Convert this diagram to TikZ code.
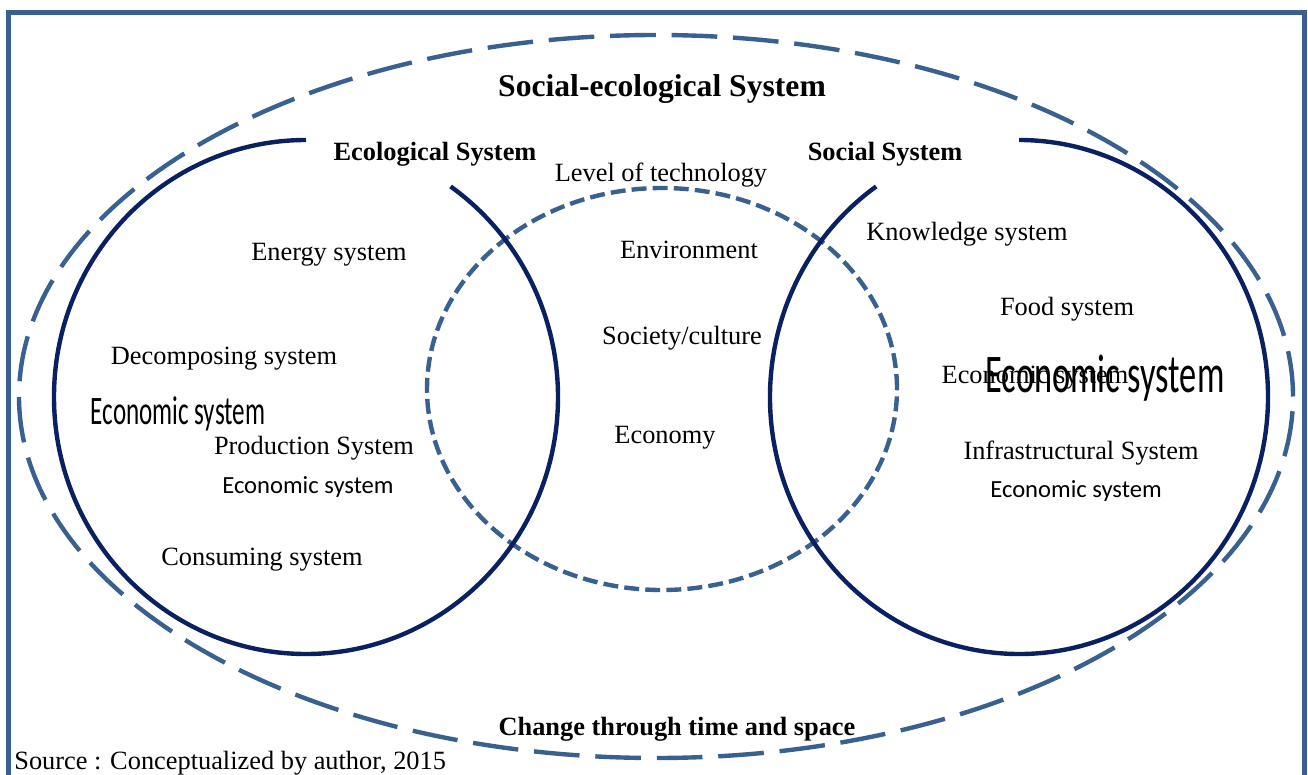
\documentclass[tikz,border=0pt]{standalone}
\usepackage{fontspec}
\setmainfont{Liberation Serif}
\newfontfamily\calibrifont{Carlito}
\definecolor{frameblue}{RGB}{58,96,144}
\definecolor{ringnavy}{RGB}{10,32,96}
\tikzset{
  framebox/.style={frameblue,line width=2.9pt},
  outerdash/.style={frameblue,line width=2.5pt,dash pattern=on 26pt off 9pt},
  innerdash/.style={frameblue,line width=2.5pt,dash pattern=on 8.5pt off 3.5pt},
  ring/.style={ringnavy,line width=2.5pt},
  headlabel/.style={font=\bfseries\fontsize{15}{18}\selectfont},
  sanslabel/.style={font=\calibrifont\fontsize{14}{17}\selectfont}
}

\begin{document}
\begin{tikzpicture}[scale=0.2]
\tikzstyle{every node}+=[inner sep=0pt,font=\fontsize{15}{18}\selectfont]
\useasboundingbox (0,0) rectangle (130.8,-77.5);
\draw [framebox] (0.87,-78) -- (0.87,-1.25) -- (130.45,-1.25) -- (130.45,-78);
\draw [outerdash] (65.6,-39.65) ellipse (63.7 and 36.15);
\draw [innerdash] (66.2,-38.9) ellipse (23.5 and 20.1);
\draw [ring] (30.6,-39.7) ++(90:25.2 and 25.7) arc (90:415:25.2 and 25.7);
\draw [ring] (101.9,-39.7) ++(125:24.9 and 25.7) arc (125:450:24.9 and 25.7);
\draw (66.2,-8.9) node (setitle) [font=\bfseries\fontsize{18}{22}\selectfont] {Social-ecological System};
\draw (43.5,-15.4) node (ecohead) [headlabel] {Ecological System};
\draw (88.5,-15.4) node (sochead) [headlabel] {Social System};
\draw (66.1,-17.5) node (techlevel) {Level of technology};
\draw (32.9,-25.5) node (energy) {Energy system};
\draw (68.9,-25.0) node (environ) {Environment};
\draw (96.7,-23.4) node (knowledge) {Knowledge system};
\draw (106.7,-30.9) node (food) {Food system};
\draw (68.2,-33.8) node (society) {Society/culture};
\draw (22.4,-35.9) node (decomp) {Decomposing system};
\draw (103.5,-37.8) node (econserif) {Economic system};
\draw (110.5,-37.8) node (econbigr) [font=\calibrifont\fontsize{31}{36}\selectfont] {\scalebox{0.63}[1]{Economic system}};
\draw (17.8,-41.4) node (econbigl) [font=\calibrifont\fontsize{23}{28}\selectfont] {\scalebox{0.62}[1]{Economic system}};
\draw (31.4,-44.8) node (production) {Production System};
\draw (66.5,-43.8) node (economy) {Economy};
\draw (108.1,-45.3) node (infra) {Infrastructural System};
\draw (30.8,-48.7) node (econsmalll) [sanslabel] {Economic system};
\draw (107.6,-49.1) node (econsmallr) [sanslabel] {Economic system};
\draw (26.2,-56.0) node (consuming) {Consuming system};
\draw (67.7,-72.9) node (change) [headlabel] {Change through time and space};
\draw (1.4,-76.3) node (srcnote) [anchor=west] {Source : Conceptualized by author, 2015};
\end{tikzpicture}
\end{document}
